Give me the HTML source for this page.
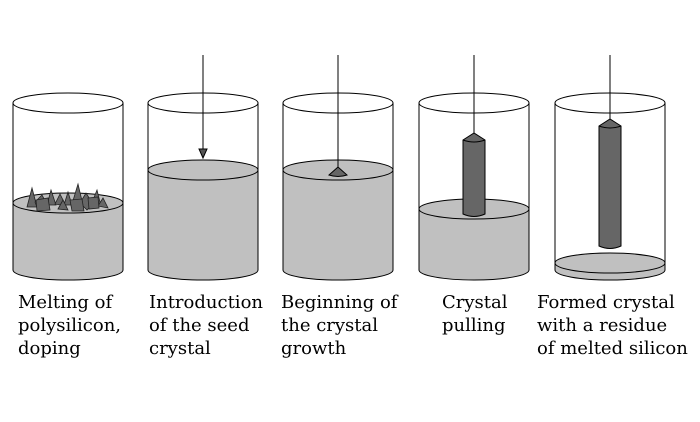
<!DOCTYPE html>
<html><head><style>
body{margin:0;background:#fff;width:700px;height:422px;overflow:hidden}
svg{position:absolute;left:0;top:0}
text{font-family:"DejaVu Serif","Liberation Serif",serif;font-size:18px;fill:#000}
</style></head><body>
<svg width="700" height="422" viewBox="0 0 700 422">
<g stroke="#000" stroke-width="1" fill="none">
<path d="M13,203 L13,270 A55,10 0 0 0 123,270 L123,203 Z" fill="#c0c0c0"/>
<ellipse cx="68" cy="203" rx="55" ry="10" fill="#c0c0c0"/>
<g fill="#666" stroke="#222" stroke-width="0.8">
<polygon points="27,207 32,188 37,207"/><polygon points="35,202 42,195 48,206 38,210"/>
<polygon points="47,205 51,190 56,205"/><polygon points="55,204 60,194 66,206"/>
<polygon points="64,205 68,192 72,205"/><polygon points="72,204 78,184 83,205"/>
<polygon points="80,203 86,193 93,204 87,210"/><polygon points="91,205 97,190 101,206"/>
<polygon points="98,206 103,198 108,208"/><polygon points="36,200 48,198 50,210 37,211"/>
<polygon points="70,200 82,199 84,211 72,211"/><polygon points="58,209 63,200 68,210"/>
<polygon points="88,198 98,197 99,208 89,209"/>
</g>
<ellipse cx="68" cy="103" rx="55" ry="10"/><line x1="13" y1="103" x2="13" y2="270"/><line x1="123" y1="103" x2="123" y2="270"/>
<path d="M148,170 L148,270 A55,10 0 0 0 258,270 L258,170 Z" fill="#c0c0c0"/>
<ellipse cx="203" cy="170" rx="55" ry="10" fill="#c0c0c0"/>
<ellipse cx="203" cy="103" rx="55" ry="10"/>
<line x1="203" y1="55" x2="203" y2="150"/>
<polygon points="199,149 207,149 203,158" fill="#555"/>
<path d="M283,170 L283,270 A55,10 0 0 0 393,270 L393,170 Z" fill="#c0c0c0"/>
<ellipse cx="338" cy="170" rx="55" ry="10" fill="#c0c0c0"/>
<ellipse cx="338" cy="103" rx="55" ry="10"/>
<line x1="338" y1="55" x2="338" y2="167"/>
<path d="M329,175 L338,167 L347,175 Q338,178 329,175 Z" fill="#666"/>
<path d="M419,209 L419,270 A55,10 0 0 0 529,270 L529,209 Z" fill="#c0c0c0"/>
<ellipse cx="474" cy="209" rx="55" ry="10" fill="#c0c0c0"/>
<ellipse cx="474" cy="103" rx="55" ry="10"/>
<line x1="474" y1="55" x2="474" y2="133"/>
<path d="M463,140 L474,133 L485,140 L485,214 Q474,219 463,214 Z" fill="#666"/>
<path d="M463,140 Q474,144 485,140"/>
<path d="M555,263 L555,270 A55,10 0 0 0 665,270 L665,263 Z" fill="#c0c0c0"/>
<ellipse cx="610" cy="263" rx="55" ry="10" fill="#c0c0c0"/>
<ellipse cx="610" cy="103" rx="55" ry="10"/>
<line x1="610" y1="55" x2="610" y2="119"/>
<path d="M599,126 L610,119 L621,126 L621,246 Q610,251 599,246 Z" fill="#666"/>
<path d="M599,126 Q610,130 621,126"/>
<line x1="148" y1="103" x2="148" y2="270"/><line x1="258" y1="103" x2="258" y2="270"/>
<line x1="283" y1="103" x2="283" y2="270"/><line x1="393" y1="103" x2="393" y2="270"/>
<line x1="419" y1="103" x2="419" y2="270"/><line x1="529" y1="103" x2="529" y2="270"/>
<line x1="555" y1="103" x2="555" y2="270"/><line x1="665" y1="103" x2="665" y2="270"/>
</g>
<text x="18" y="308">Melting of</text><text x="18" y="331">polysilicon,</text><text x="18" y="354">doping</text>
<text x="149" y="308">Introduction</text><text x="149" y="331">of the seed</text><text x="149" y="354">crystal</text>
<text x="281" y="308">Beginning of</text><text x="281" y="331">the crystal</text><text x="281" y="354">growth</text>
<text x="442" y="308">Crystal</text><text x="442" y="331">pulling</text>
<text x="537" y="308">Formed crystal</text><text x="537" y="331">with a residue</text><text x="537" y="354">of melted silicon</text>
</svg>
</body></html>
